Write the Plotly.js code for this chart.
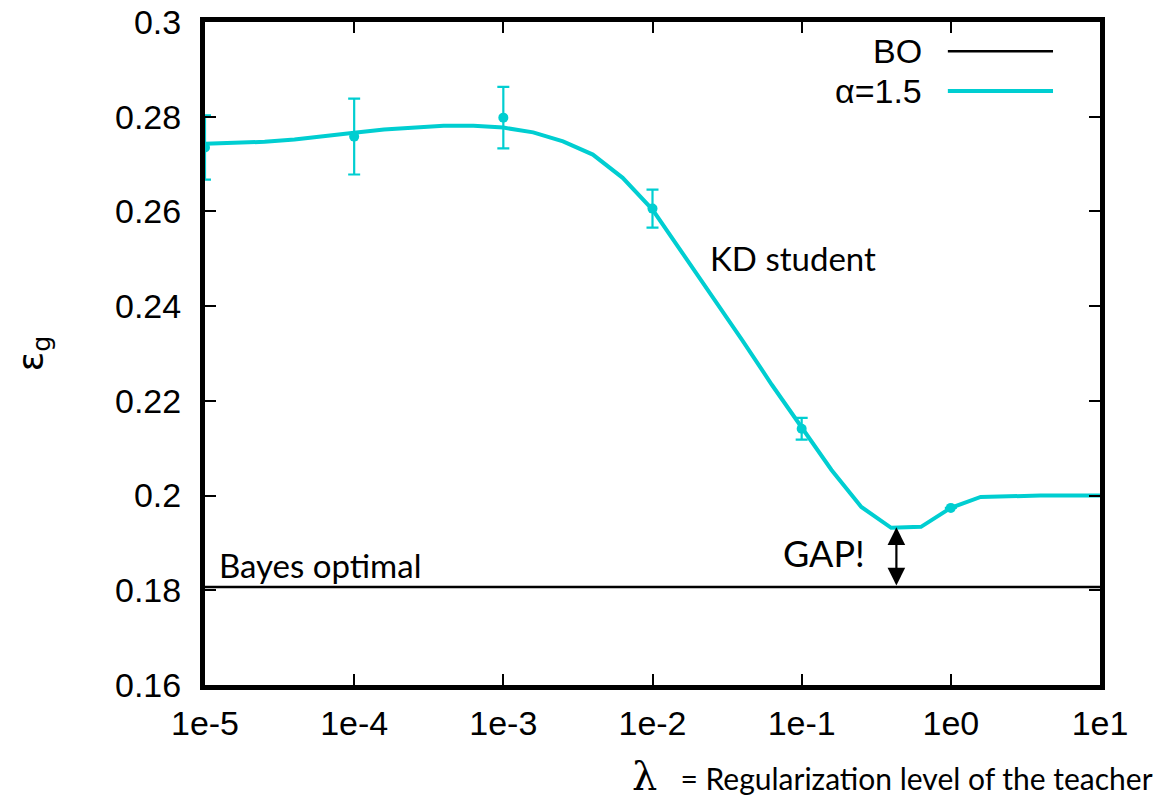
<!DOCTYPE html>
<html>
<head>
<meta charset="utf-8">
<script src="https://cdn.plot.ly/plotly-3.0.1.min.js"></script>
<style>html,body{margin:0;padding:0;background:#fff;}#chart{width:1159px;height:799px;}</style>
</head>
<body>
<div id="chart"></div>
<script>
// theory curve: log10(lambda) exponents and generalization error
const curveExp = [-5.0,-4.8,-4.6,-4.4,-4.2,-4.0,-3.8,-3.6,-3.4,-3.2,-3.0,-2.8,-2.6,-2.4,-2.2,-2.0,-1.8,-1.6,-1.4,-1.2,-1.0,-0.8,-0.6,-0.4,-0.2,0.0,0.2,0.4,0.6,0.8,1.0];
const curveEg  = [0.2743,0.2745,0.2747,0.2752,0.2758,0.2766,0.2773,0.2777,0.2781,0.2781,0.2777,0.2767,0.2748,0.2720,0.2671,0.2604,0.2513,0.2420,0.2329,0.2234,0.2143,0.2054,0.1976,0.1932,0.1934,0.1974,0.1997,0.1999,0.2000,0.2000,0.2000];
// simulation points with error bars
const simLambda = [1e-5,1e-4,1e-3,1e-2,1e-1,1];
const simEg     = [0.2735,0.2758,0.2798,0.2606,0.2141,0.1974];
const simErr    = [0.0068,0.0080,0.0065,0.0040,0.0023,0.0];
// Bayes optimal level
const boLambda = [1e-5,10];
const boEg     = [0.1807,0.1807];
// ticks
const xTickVals = [1e-5,1e-4,1e-3,1e-2,1e-1,1,10];
const xTickText = ['1e-5','1e-4','1e-3','1e-2','1e-1','1e0','1e1'];
const yTickVals = [0.16,0.18,0.20,0.22,0.24,0.26,0.28,0.30];
const yTickText = ['0.16','0.18','0.2','0.22','0.24','0.26','0.28','0.3'];
// gap arrow position
const gapExp = -0.365;
const gapTop = 0.1933;

const cyan = '#00ced1';
const curveLambda = curveExp.map(e => Math.pow(10, e));

const traces = [
  {x: boLambda, y: boEg, mode: 'lines', line: {color: '#000', width: 2.5}, showlegend: false, hoverinfo: 'skip'},
  {x: curveLambda, y: curveEg, mode: 'lines', line: {color: cyan, width: 4}, showlegend: false},
  {x: simLambda, y: simEg, mode: 'markers', marker: {color: cyan, size: 10},
   error_y: {type: 'data', array: simErr, visible: true, color: cyan, thickness: 2.2, width: 6},
   showlegend: false, cliponaxis: false}
];

const tickFont = {family: 'Liberation Sans, Arial, sans-serif', size: 34, color: '#000'};
const noteFont = {family: 'Lato, Open Sans, sans-serif', size: 33, color: '#000'};

const layout = {
  width: 1159, height: 799,
  margin: {l: 205, r: 59, t: 22, b: 114, pad: 0},
  paper_bgcolor: '#fff', plot_bgcolor: '#fff',
  showlegend: false,
  xaxis: {
    type: 'log', range: [-5, 1],
    tickvals: xTickVals, ticktext: xTickText,
    ticks: 'inside', ticklen: 11, tickwidth: 2, tickcolor: '#000',
    showline: true, linecolor: '#000', linewidth: 5, mirror: 'ticks',
    showgrid: false, zeroline: false, tickfont: tickFont, ticklabelstandoff: 4
  },
  yaxis: {
    range: [0.16, 0.30],
    tickvals: yTickVals, ticktext: yTickText,
    ticks: 'inside', ticklen: 11, tickwidth: 2, tickcolor: '#000',
    showline: true, linecolor: '#000', linewidth: 5, mirror: 'ticks',
    showgrid: false, zeroline: false, tickfont: tickFont, ticklabelstandoff: 12,
    title: {text: 'ε<sub>g</sub>', font: {family: 'DejaVu Sans, sans-serif', size: 36, color: '#000'}, standoff: 62}
  },
  shapes: [
    {type: 'line', xref: 'paper', yref: 'paper', x0: 0.830, x1: 0.9475, y0: 0.956, y1: 0.956, line: {color: '#000', width: 2.5}},
    {type: 'line', xref: 'paper', yref: 'paper', x0: 0.830, x1: 0.9475, y0: 0.896, y1: 0.896, line: {color: cyan, width: 4}}
  ],
  annotations: [
    {xref: 'paper', yref: 'paper', x: 0.803, y: 0.956, xanchor: 'right', yanchor: 'middle', text: 'BO', showarrow: false, font: tickFont},
    {xref: 'paper', yref: 'paper', x: 0.803, y: 0.896, xanchor: 'right', yanchor: 'middle', text: 'α=1.5', showarrow: false, font: tickFont},
    {xref: 'x', yref: 'y', x: -1.06, y: 0.2502, text: 'KD student', showarrow: false, font: noteFont},
    {xref: 'x', yref: 'y', x: -4.92, y: 0.1854, xanchor: 'left', text: 'Bayes optimal', showarrow: false, font: noteFont},
    {xref: 'x', yref: 'y', x: -0.851, y: 0.1879, text: 'GAP!', showarrow: false, font: {family: 'Lato, Open Sans, sans-serif', size: 36, color: '#000'}},
    {xref: 'x', yref: 'y', x: gapExp, y: gapTop, axref: 'x', ayref: 'y', ax: gapExp, ay: boEg[0],
     text: '', showarrow: true, arrowhead: 2, startarrowhead: 2, arrowside: 'end+start', arrowsize: 1.6, startarrowsize: 1.6, arrowwidth: 2.2, arrowcolor: '#000', standoff: 0, startstandoff: 0},
    {xref: 'paper', yref: 'paper', x: 1.061, y: -0.137, xanchor: 'right', yanchor: 'middle', showarrow: false,
     text: '<span style="font-size:40px;font-family:DejaVu Serif, serif">λ</span>&nbsp;&nbsp;&nbsp;= Regularization level of the teacher',
     font: {family: 'Lato, Open Sans, sans-serif', size: 30, color: '#000'}}
  ]
};

Plotly.newPlot('chart', traces, layout, {staticPlot: true, displayModeBar: false});
</script>
</body>
</html>
